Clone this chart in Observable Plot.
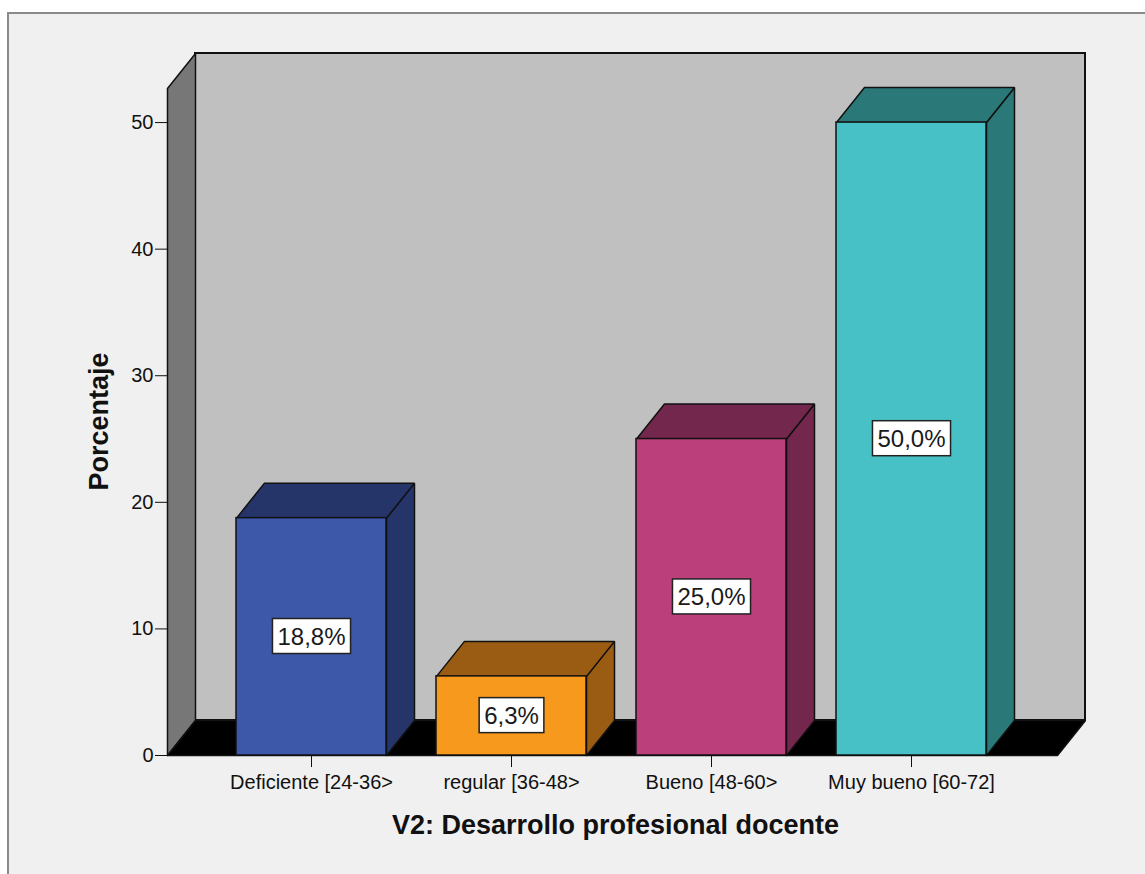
<!DOCTYPE html>
<html><head><meta charset="utf-8">
<script src="https://cdn.jsdelivr.net/npm/d3@7"></script>
<script src="https://cdn.jsdelivr.net/npm/@observablehq/plot@0.6"></script>
<style>
html,body{margin:0;padding:0;background:#fff;width:1145px;height:874px;overflow:hidden;}
#frame{position:absolute;left:7px;top:12px;width:1200px;height:900px;border-left:2px solid #8a8a8a;border-top:2px solid #8a8a8a;background:#f0f0f0;}
#chart{position:absolute;left:0;top:0;}
</style></head><body><div id="frame"></div><div id="chart"></div>
<script>
const categories = ["Deficiente [24-36>", "regular [36-48>", "Bueno [48-60>", "Muy bueno [60-72]"];
const percentages = [18.75, 6.25, 25, 50];
const valueLabels = ["18,8%", "6,3%", "25,0%", "50,0%"];
const yTicks = [0, 10, 20, 30, 40, 50];
const xTitle = "V2: Desarrollo profesional docente";
const yTitle = "Porcentaje";

const frontColors = ["#3d57a9", "#f7991d", "#bb3f7a", "#48c1c6"];
const sideColors = ["#25356a", "#9a5b12", "#73274c", "#2b7878"];

// 3D geometry (data units)
const HW = 0.375, DX = 0.14, DY = 2.765;
const X0 = -0.72, X1 = 3.73, YMAX = 52.69;
const idx = categories.map((_, i) => i);

const polys = [];
function poly(face, fill, pts) {
  pts.concat([pts[0]]).forEach(([x, y]) => polys.push({face, fill, x, y}));
}
poly("leftwall", "#777777", [[X0, 0], [X0, YMAX], [X0 + DX, YMAX + DY], [X0 + DX, DY]]);
poly("floor", "#000000", [[X0, 0], [X0 + DX, DY], [X1 + DX, DY], [X1, 0]]);
const barPolys = [];
idx.forEach(i => {
  const v = percentages[i], a = i - HW, b = i + HW;
  const push = (face, fill, pts) => pts.concat([pts[0]]).forEach(([x, y]) => barPolys.push({face, fill, x, y}));
  push("side" + i, sideColors[i], [[b, 0], [b, v], [b + DX, v + DY], [b + DX, DY]]);
  push("top" + i, sideColors[i], [[a, v], [b, v], [b + DX, v + DY], [a + DX, v + DY]]);
});

const FONT = "'Liberation Sans', Arial, sans-serif";

const chart = Plot.plot({
  width: 1145,
  height: 874,
  marginTop: 53,
  marginBottom: 119,
  marginLeft: 167,
  marginRight: 60,
  style: {background: "transparent", fontFamily: FONT, color: "#111", overflow: "visible"},
  x: {type: "linear", domain: [X0, X1 + DX]},
  y: {type: "linear", domain: [0, YMAX + DY]},
  color: {type: "identity"},
  marks: [
    Plot.rect([0], {x1: X0 + DX, x2: X1 + DX, y1: DY, y2: YMAX + DY, fill: "#c0c0c0", stroke: "#111", strokeWidth: 2}),
    Plot.line(polys, {x: "x", y: "y", z: "face", fill: "fill", stroke: "#111", strokeWidth: 1.5, strokeLinejoin: "miter"}),
    Plot.line(barPolys, {x: "x", y: "y", z: "face", fill: "fill", stroke: "#111", strokeWidth: 1.5, strokeLinejoin: "miter"}),
    Plot.rect(idx, {x1: i => i - HW, x2: i => i + HW, y1: 0, y2: i => percentages[i], fill: i => frontColors[i], stroke: "#111", strokeWidth: 1.5}),
    Plot.axisY({ticks: yTicks, tickSize: 12, tickPadding: 2, fontSize: 20, label: null, stroke: "#111"}),
    Plot.axisX({ticks: idx, tickFormat: i => categories[i], tickSize: 12, tickPadding: 7, fontSize: 20, label: null, stroke: "#111"}),
    Plot.text(idx, {x: i => i, y: i => percentages[i] / 2, text: i => valueLabels[i], fontSize: 24, fill: "#1a1a1a"}),
    Plot.text([xTitle], {frameAnchor: "bottom", textAnchor: "middle", dx: -11, dy: 78, fontSize: 27, fontWeight: "bold", fill: "#111"}),
    Plot.text([yTitle], {frameAnchor: "left", textAnchor: "middle", rotate: -90, dx: -68, dy: 17, fontSize: 27, fontWeight: "bold", fill: "#111"})
  ]
});
document.getElementById("chart").appendChild(chart);

// white boxes behind the value labels
d3.select(chart).selectAll("text").each(function() {
  if (!valueLabels.includes(this.textContent)) return;
  const bb = this.getBBox();
  const px = 5, py = 5;
  const r = document.createElementNS("http://www.w3.org/2000/svg", "rect");
  r.setAttribute("x", bb.x - px);
  r.setAttribute("y", bb.y - py + 1);
  r.setAttribute("width", bb.width + 2 * px);
  r.setAttribute("height", bb.height + 2 * py - 2);
  r.setAttribute("fill", "#fff");
  r.setAttribute("stroke", "#222");
  r.setAttribute("stroke-width", 1.5);
  const t = this.getAttribute("transform");
  if (t) r.setAttribute("transform", t);
  this.parentNode.insertBefore(r, this);
});
</script>
</body></html>
